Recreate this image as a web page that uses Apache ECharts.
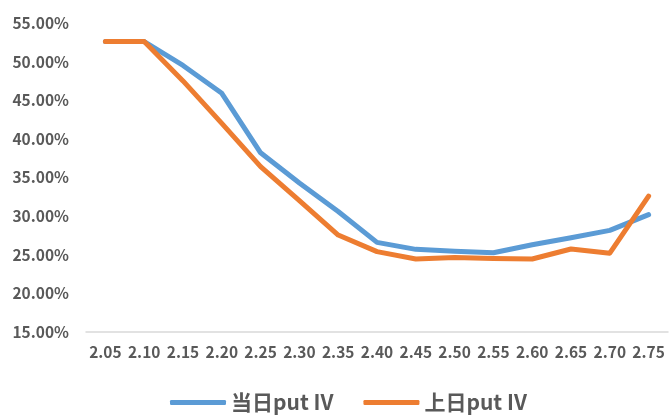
<!DOCTYPE html>
<html><head><meta charset="utf-8">
<script src="https://cdn.jsdelivr.net/npm/echarts@6/dist/echarts.min.js"></script>
<style>html,body{margin:0;padding:0;background:#fff}#c{width:670px;height:415px}</style>
</head><body><div id="c"></div>
<script>
const categories = ['2.05','2.10','2.15','2.20','2.25','2.30','2.35','2.40','2.45','2.50','2.55','2.60','2.65','2.70','2.75'];
const todayIV = [52.6,52.6,49.5,45.9,38.2,34.3,30.6,26.6,25.7,25.45,25.25,26.3,27.2,28.15,30.2];
const prevIV  = [52.6,52.6,47.5,42.0,36.4,32.0,27.55,25.4,24.45,24.65,24.5,24.45,25.75,25.2,32.6];
const seriesNames = ['当日put IV','上日put IV'];

const chart = echarts.init(document.getElementById('c'));
const font = '"Noto Sans CJK SC", "Noto Sans", sans-serif';
chart.setOption({
  animation: false,
  grid: {left: 86, right: 2, top: 23, bottom: 83},
  legend: {
    left: 165, top: 387,
    itemWidth: 56, itemHeight: 5, itemGap: 30,
    icon: 'roundRect',
    textStyle: {fontFamily: font, fontSize: 21, fontWeight: 'bold', color: '#595959'},
    data: seriesNames
  },
  xAxis: {
    type: 'category', data: categories, boundaryGap: true,
    axisLine: {lineStyle: {color: '#d9d9d9', width: 1.5}},
    axisTick: {show: false},
    axisLabel: {fontFamily: font, fontSize: 15.5, fontWeight: 'bold', color: '#595959', margin: 12, interval: 0}
  },
  yAxis: {
    type: 'value', min: 15, max: 55, interval: 5,
    splitLine: {show: false},
    axisLine: {show: false}, axisTick: {show: false},
    axisLabel: {fontFamily: font, fontSize: 15.5, fontWeight: 'bold', color: '#595959', margin: 17,
      formatter: v => v.toFixed(2) + '%'}
  },
  series: [
    {name: seriesNames[0], type: 'line', data: todayIV, symbol: 'none',
     lineStyle: {width: 5, color: '#5B9BD5', cap: 'round', join: 'round'}, itemStyle: {color: '#5B9BD5'}},
    {name: seriesNames[1], type: 'line', data: prevIV, symbol: 'none',
     lineStyle: {width: 5, color: '#ED7D31', cap: 'round', join: 'round'}, itemStyle: {color: '#ED7D31'}}
  ]
});
</script></body></html>
